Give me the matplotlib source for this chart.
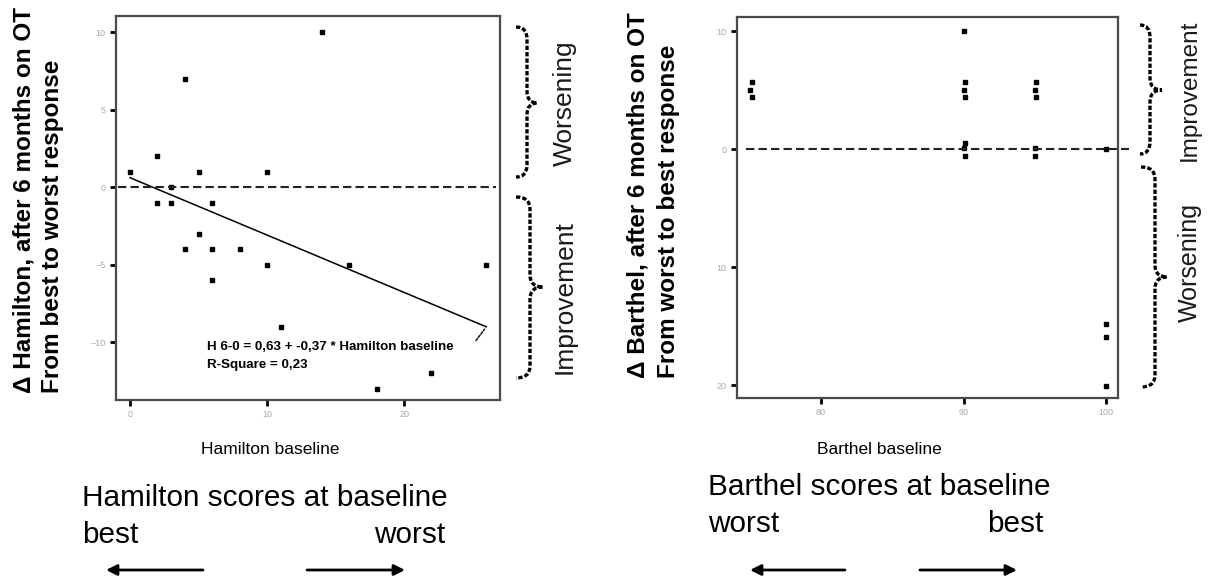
import matplotlib
matplotlib.use("Agg")
import matplotlib.pyplot as plt
from matplotlib.path import Path
from matplotlib.patches import PathPatch
import numpy as np

plt.rcParams['font.family'] = ['Liberation Sans', 'DejaVu Sans']

# ---------------- data ----------------
ham_baseline = [0, 2, 4, 5, 10, 14, 3, 2, 3, 6, 5, 4, 6, 8, 10, 6, 11, 16, 26, 22, 18]
ham_change = [1, 2, 7, 1, 1, 10, 0, -1, -1, -1, -3, -4, -4, -4, -5, -6, -9, -5, -5, -12, -13]
fit_intercept = 0.63
fit_slope = -0.37
fit_range = [0, 26]
ham_xticks = [0, 10, 20]
ham_yticks = [10, 5, 0, -5, -10]

bar_baseline = [75.15, 75.0, 75.15, 90, 90.1, 90.0, 90.1, 90.1, 90.0, 90.1,
                95.1, 95.0, 95.1, 95.0, 95.0, 100, 100, 100, 100]
bar_change = [5.7, 5.0, 4.4, 10, 5.7, 5.0, 4.4, 0.5, 0.1, -0.6,
              5.7, 5.0, 4.4, 0.1, -0.6, 0.0, -14.8, -15.9, -20.1]
bar_xticks = [80, 90, 100]
bar_yticks = [10, 0, -10, -20]
bar_yticklabels = ['10', '0', '10', '20']

W, H = 1214, 582
fig = plt.figure(figsize=(W / 100, H / 100), dpi=100)


def px_axes(l, t, r, b):
    return fig.add_axes([l / W, 1 - b / H, (r - l) / W, (b - t) / H])


def style_axes(ax):
    for s in ax.spines.values():
        s.set_color('#4a4a4a')
        s.set_linewidth(1.6)
    ax.tick_params(axis='both', which='major', length=4.5, width=2.0, color='black',
                   labelcolor='#a8a8a8', labelsize=6.5, pad=3)


# ---------------- left plot ----------------
axL = px_axes(116, 16, 500, 400)
axL.plot(ham_baseline, ham_change, ls='none', marker='s', ms=3, color='black')
fx = np.array(fit_range, dtype=float)
axL.plot(fx, fit_intercept + fit_slope * fx, color='black', lw=1.1)
axL.axhline(0, xmin=0.005, xmax=0.99, color='#222222', lw=1.5, ls=(0, (4, 2)))
axL.set_xlim(-1.02, 27.0)
axL.set_ylim(-13.71, 11.06)
axL.set_xticks(ham_xticks)
axL.set_yticks(ham_yticks)
style_axes(axL)
xe = fit_range[1]
axL.annotate('', xy=(xe, fit_intercept + fit_slope * xe), xytext=(-12, -16),
             textcoords='offset pixels',
             arrowprops=dict(arrowstyle='-', color='black', lw=1.0, ls=(0, (2, 1))))
axL.text(0.237, 0.138, 'H 6-0 = 0,63 + -0,37 * Hamilton baseline', transform=axL.transAxes,
         fontsize=9.6, fontweight='bold', va='center', ha='left')
axL.text(0.237, 0.091, 'R-Square = 0,23', transform=axL.transAxes,
         fontsize=9.6, fontweight='bold', va='center', ha='left')

# ---------------- right plot ----------------
axR = px_axes(737, 17, 1118, 398)
axR.plot(bar_baseline, bar_change, ls='none', marker='s', ms=3, color='black')
axR.axhline(0, xmin=0.024, xmax=1.03, color='#222222', lw=1.5, ls=(0, (4, 2)), clip_on=False)
axR.set_xlim(74.1, 100.84)
axR.set_ylim(-21.1, 11.19)
axR.set_xticks(bar_xticks)
axR.set_yticks(bar_yticks)
axR.set_yticklabels(bar_yticklabels)
style_axes(axR)

# ---------------- overlay (pixel coordinates) ----------------
ov = fig.add_axes([0, 0, 1, 1], facecolor='none')
ov.set_xlim(0, W)
ov.set_ylim(H, 0)
ov.axis('off')


def brace(x0, x1, x2, ytop, ymid, ybot, r=12):
    verts = [(x0, ytop), (x1, ytop), (x1, ytop + r),
             (x1, ymid - r), (x1, ymid), (x2, ymid),
             (x1, ymid), (x1, ymid + r),
             (x1, ybot - r), (x1, ybot), (x0, ybot)]
    codes = [Path.MOVETO, Path.CURVE3, Path.CURVE3,
             Path.LINETO, Path.CURVE3, Path.CURVE3,
             Path.CURVE3, Path.CURVE3,
             Path.LINETO, Path.CURVE3, Path.CURVE3]
    ov.add_patch(PathPatch(Path(verts, codes), fill=False, lw=2.4, ec='black',
                           ls=(0, (1.3, 0.6))))


brace(516, 527, 537, 27, 103, 177)
brace(516, 530, 543, 197, 287, 378)
brace(1140, 1150, 1162, 25, 90, 154)
brace(1141, 1155, 1167, 167, 277, 387)

side_kw = dict(rotation=90, ha='center', va='center', color='#1a1a1a')
ov.text(565, 103, 'Worsening', fontsize=19, **side_kw)
ov.text(565, 297, 'Improvement', fontsize=19, **side_kw)
ov.text(1190, 90, 'Improvement', fontsize=17.5, **side_kw)
ov.text(1190, 263, 'Worsening', fontsize=18, **side_kw)

ylab_kw = dict(rotation=90, rotation_mode='anchor', ha='left', va='center',
               fontsize=17.5, fontweight='bold')
ov.text(24, 393, 'Δ Hamilton, after 6 months on OT', **ylab_kw)
ov.text(53, 393, 'From best to worst response', **ylab_kw)
ov.text(638, 378, 'Δ Barthel, after 6 months on OT', **ylab_kw)
ov.text(668, 378, 'From worst to best response', **ylab_kw)

ov.text(270, 450, 'Hamilton baseline', ha='center', va='center', fontsize=12.5)
ov.text(879, 450, 'Barthel baseline', ha='center', va='center', fontsize=12.5)

big = dict(fontsize=21.4, va='baseline')
ov.text(82, 506, 'Hamilton scores at baseline', ha='left', **big)
ov.text(82, 543, 'best', ha='left', **big)
ov.text(445, 543, 'worst', ha='right', **big)
ov.text(708, 495, 'Barthel scores at baseline', ha='left', **big)
ov.text(708, 532, 'worst', ha='left', **big)
ov.text(1043, 532, 'best', ha='right', **big)

arrow_kw = dict(arrowstyle='-|>', color='black', lw=2, mutation_scale=16,
                shrinkA=0, shrinkB=0)
for (xs, xe_) in [(203, 106), (307, 405), (845, 750), (920, 1017)]:
    ov.annotate('', xy=(xe_, 570), xytext=(xs, 570), arrowprops=arrow_kw)

fig.savefig('out.png', dpi=100)
